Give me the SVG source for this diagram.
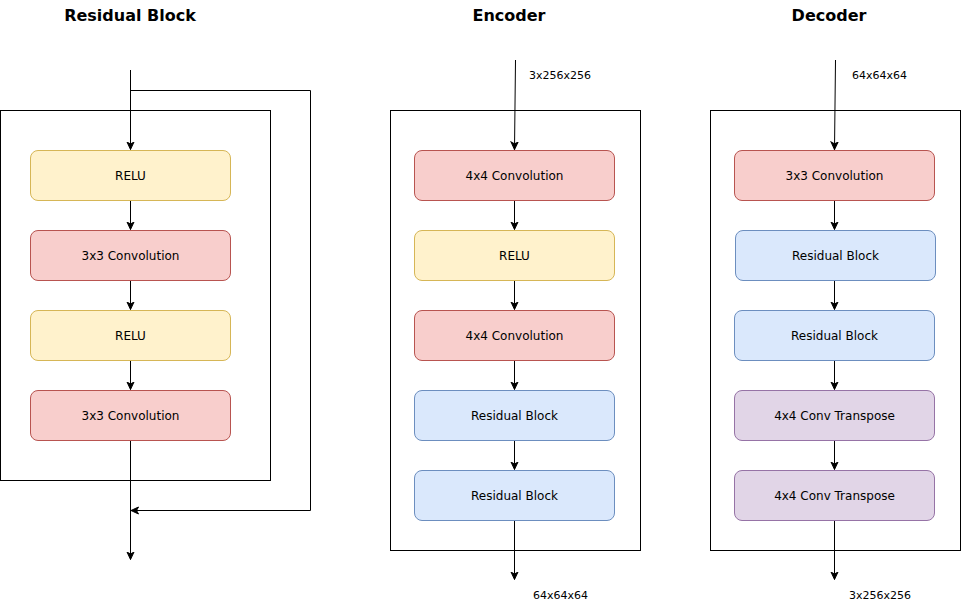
<svg xmlns="http://www.w3.org/2000/svg" width="961" height="611" viewBox="0 0 961 611">
<style>
text{font-family:"DejaVu Sans","Liberation Sans",sans-serif;fill:#000}
.title{font-size:16px;font-weight:bold;text-anchor:middle}
.lbl{font-size:12px;text-anchor:middle;dominant-baseline:central}
.small{font-size:11px;dominant-baseline:central}
.frame{fill:none;stroke:#000;stroke-width:1}
.yel{fill:#fff2cc;stroke:#d6b656}
.red{fill:#f8cecc;stroke:#b85450}
.blue{fill:#dae8fc;stroke:#6c8ebf}
.pur{fill:#e1d5e7;stroke:#9673a6}
.edge{fill:none;stroke:#000;stroke-width:1}
</style>
<defs>
<marker id="arr" markerWidth="10" markerHeight="10" refX="8" refY="4" orient="auto" markerUnits="userSpaceOnUse">
<path d="M0.5,0.5 L8,4 L0.5,7.5 L2.5,4 Z" fill="#000" stroke="#000" stroke-width="1"/>
</marker>
</defs>
<rect fill="#fff" x="0" y="0" width="961" height="611"/>

<text class="title" x="130" y="21">Residual Block</text>
<text class="title" x="509" y="21">Encoder</text>
<text class="title" x="829" y="21">Decoder</text>

<g id="frames">
<rect class="frame" x="0.5" y="110.5" width="270" height="370"/>
<rect class="frame" x="390.5" y="110.5" width="250" height="440"/>
<rect class="frame" x="710.5" y="110.5" width="250" height="440"/>
</g>

<g id="connectors">
<path class="edge" d="M130.5,70 L130.5,149.5" marker-end="url(#arr)"/>
<path class="edge" d="M130.5,90.5 L310.5,90.5 L310.5,510.5 L131,510.5" marker-end="url(#arr)"/>
<path class="edge" d="M130.5,200.5 L130.5,229.5" marker-end="url(#arr)"/>
<path class="edge" d="M130.5,280.5 L130.5,309.5" marker-end="url(#arr)"/>
<path class="edge" d="M130.5,360.5 L130.5,389.5" marker-end="url(#arr)"/>
<path class="edge" d="M130.5,440.5 L130.5,559.5" marker-end="url(#arr)"/>

<path class="edge" d="M515.5,60 L514.5,149.5" marker-end="url(#arr)"/>
<path class="edge" d="M514.5,200.5 L514.5,229.5" marker-end="url(#arr)"/>
<path class="edge" d="M514.5,280.5 L514.5,309.5" marker-end="url(#arr)"/>
<path class="edge" d="M514.5,360.5 L514.5,389.5" marker-end="url(#arr)"/>
<path class="edge" d="M514.5,440.5 L514.5,469.5" marker-end="url(#arr)"/>
<path class="edge" d="M514.5,520.5 L514.5,579.5" marker-end="url(#arr)"/>

<path class="edge" d="M835.5,60 L834.5,149.5" marker-end="url(#arr)"/>
<path class="edge" d="M834.5,200.5 L834.5,229.5" marker-end="url(#arr)"/>
<path class="edge" d="M834.5,280.5 L834.5,309.5" marker-end="url(#arr)"/>
<path class="edge" d="M834.5,360.5 L834.5,389.5" marker-end="url(#arr)"/>
<path class="edge" d="M834.5,440.5 L834.5,469.5" marker-end="url(#arr)"/>
<path class="edge" d="M834.5,520.5 L834.5,579.5" marker-end="url(#arr)"/>
</g>

<text class="small" x="529" y="75">3x256x256</text>
<text class="small" x="533" y="595">64x64x64</text>
<text class="small" x="852" y="75">64x64x64</text>
<text class="small" x="849" y="595">3x256x256</text>

<g id="res-relu1"><rect class="yel" x="30.5" y="150.5" width="200" height="50" rx="7.5"/><text class="lbl" x="130.5" y="175.5">RELU</text></g>
<g id="res-conv1"><rect class="red" x="30.5" y="230.5" width="200" height="50" rx="7.5"/><text class="lbl" x="130.5" y="255.5">3x3 Convolution</text></g>
<g id="res-relu2"><rect class="yel" x="30.5" y="310.5" width="200" height="50" rx="7.5"/><text class="lbl" x="130.5" y="335.5">RELU</text></g>
<g id="res-conv2"><rect class="red" x="30.5" y="390.5" width="200" height="50" rx="7.5"/><text class="lbl" x="130.5" y="415.5">3x3 Convolution</text></g>

<g id="enc-conv1"><rect class="red" x="414.5" y="150.5" width="200" height="50" rx="7.5"/><text class="lbl" x="514.5" y="175.5">4x4 Convolution</text></g>
<g id="enc-relu"><rect class="yel" x="414.5" y="230.5" width="200" height="50" rx="7.5"/><text class="lbl" x="514.5" y="255.5">RELU</text></g>
<g id="enc-conv2"><rect class="red" x="414.5" y="310.5" width="200" height="50" rx="7.5"/><text class="lbl" x="514.5" y="335.5">4x4 Convolution</text></g>
<g id="enc-res1"><rect class="blue" x="414.5" y="390.5" width="200" height="50" rx="7.5"/><text class="lbl" x="514.5" y="415.5">Residual Block</text></g>
<g id="enc-res2"><rect class="blue" x="414.5" y="470.5" width="200" height="50" rx="7.5"/><text class="lbl" x="514.5" y="495.5">Residual Block</text></g>

<g id="dec-conv"><rect class="red" x="734.5" y="150.5" width="200" height="50" rx="7.5"/><text class="lbl" x="834.5" y="175.5">3x3 Convolution</text></g>
<g id="dec-res1"><rect class="blue" x="735.5" y="230.5" width="200" height="50" rx="7.5"/><text class="lbl" x="835.5" y="255.5">Residual Block</text></g>
<g id="dec-res2"><rect class="blue" x="734.5" y="310.5" width="200" height="50" rx="7.5"/><text class="lbl" x="834.5" y="335.5">Residual Block</text></g>
<g id="dec-tconv1"><rect class="pur" x="734.5" y="390.5" width="200" height="50" rx="7.5"/><text class="lbl" x="834.5" y="415.5">4x4 Conv Transpose</text></g>
<g id="dec-tconv2"><rect class="pur" x="734.5" y="470.5" width="200" height="50" rx="7.5"/><text class="lbl" x="834.5" y="495.5">4x4 Conv Transpose</text></g>
</svg>
